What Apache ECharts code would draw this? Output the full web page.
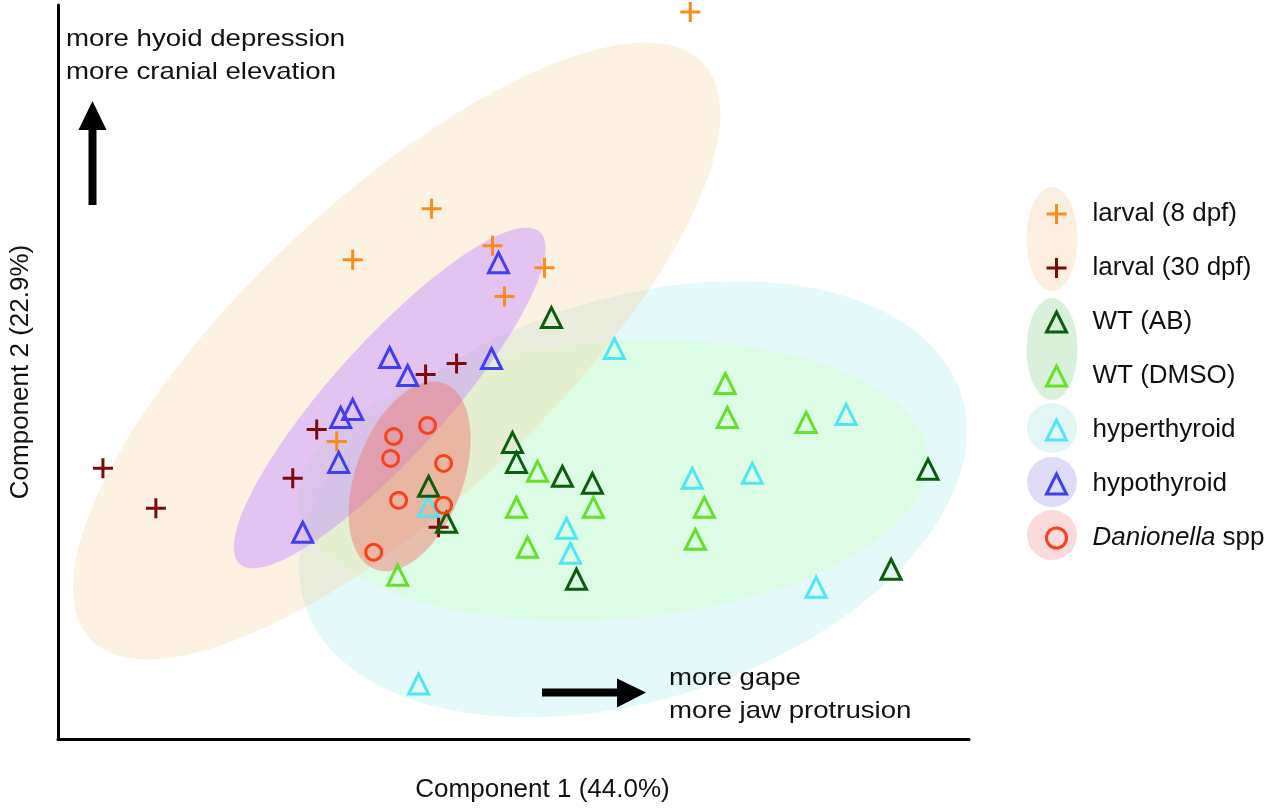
<!DOCTYPE html>
<html>
<head>
<meta charset="utf-8">
<script src="https://cdn.jsdelivr.net/npm/echarts@6/dist/echarts.min.js"></script>
<style>html,body{margin:0;padding:0;background:#fff}#c{width:1280px;height:808px}</style>
</head>
<body>
<div id="c"></div>
<script>
// ---- group names (legend order) ----
const groupNames = ['larval (8 dpf)', 'larval (30 dpf)', 'WT (AB)', 'WT (DMSO)', 'hyperthyroid', 'hypothyroid', 'Danionella spp'];

// ---- scatter values [Component 1, Component 2] (arbitrary PCA units) ----
const larval8 = [[6.33,7.28],[3.74,5.31],[2.95,4.80],[4.35,4.94],[4.87,4.72],[4.47,4.43],[2.79,2.98]];
const larval30 = [[0.45,2.71],[0.98,2.31],[2.35,2.61],[2.59,3.10],[3.68,3.65],[3.99,3.76],[3.81,2.12]];
const wtAB = [[4.94,4.22],[3.71,2.53],[3.89,2.17],[4.55,2.97],[4.59,2.77],[5.05,2.63],[5.35,2.56],[5.19,1.60],[8.71,2.70],[8.34,1.70]];
const wtDMSO = [[3.40,1.64],[4.80,2.68],[4.59,2.32],[5.36,2.32],[4.70,1.92],[6.68,3.56],[6.70,3.22],[7.49,3.17],[6.47,2.32],[6.38,2.00]];
const hyperthyroid = [[5.57,3.91],[7.89,3.25],[6.35,2.61],[6.95,2.66],[3.71,2.33],[5.09,2.11],[5.13,1.86],[7.59,1.52],[3.61,0.55]];
const hypothyroid = [[4.41,4.77],[4.34,3.81],[3.32,3.82],[3.50,3.64],[2.95,3.30],[2.83,3.22],[2.81,2.77],[2.45,2.07]];
const danionella = [[3.36,3.03],[3.70,3.14],[3.33,2.81],[3.86,2.76],[3.41,2.39],[3.86,2.34],[3.16,1.87]];

// ---- confidence ellipses [centerX, centerY, semiMajor, semiMinor, angleDeg] ----
const ellipseHyper = [5.755, 2.40, 3.45, 2.01, 17.7];
const ellipseWT = [5.555, 2.59, 3.16, 1.39, 4.25];
const ellipseLarval = [3.39, 3.885, 4.21, 1.52, 43.2];
const ellipseHypo = [3.32, 3.415, 2.24, 0.57, 47.9];
const ellipseDanio = [3.52, 2.63, 0.993, 0.537, 69.7];

// ---- axis extents / labels ----
const xRange = [0, 9.12];
const yRange = [0, 7.35];
const xName = 'Component 1 (44.0%)';
const yName = 'Component 2 (22.9%)';

const FONT = '"Liberation Sans", Arial, Helvetica, sans-serif';
const colors = ['#fa8c1e', '#7d0a0a', '#0b5e0b', '#66e02a', '#4fe6f5', '#3f3ff0', '#fa4018'];
const plusPath = 'path://M8.5,0H11.5V8.5H20V11.5H11.5V20H8.5V11.5H0V8.5H8.5Z';

function ellipseSeries(params, fill) {
  return {
    type: 'custom',
    silent: true,
    z: 1,
    encode: { x: 0, y: 1 },
    data: [params],
    renderItem: function (p, api) {
      const cx = api.value(0), cy = api.value(1), a = api.value(2), b = api.value(3);
      const ang = api.value(4) * Math.PI / 180;
      const pts = [];
      const N = 160;
      for (let i = 0; i < N; i++) {
        const t = 2 * Math.PI * i / N;
        const x = cx + a * Math.cos(t) * Math.cos(ang) - b * Math.sin(t) * Math.sin(ang);
        const y = cy + a * Math.cos(t) * Math.sin(ang) + b * Math.sin(t) * Math.cos(ang);
        pts.push(api.coord([x, y]));
      }
      return { type: 'polygon', shape: { points: pts }, style: { fill: fill } };
    }
  };
}

function plusSeries(name, data, color) {
  return { type: 'scatter', name: name, data: data, z: 3, symbol: plusPath, symbolSize: 20,
    itemStyle: { color: color, borderWidth: 0, opacity: 1 } };
}
function hollowSeries(name, data, color, symbol, size) {
  return { type: 'scatter', name: name, data: data, z: 3, symbol: symbol, symbolSize: size,
    itemStyle: { color: 'rgba(0,0,0,0)', borderColor: color, borderWidth: 3, opacity: 1 } };
}

const chart = echarts.init(document.getElementById('c'), null, { renderer: 'canvas' });
chart.setOption({
  animation: false,
  backgroundColor: '#fff',
  grid: { left: 57, right: 311, top: 5, bottom: 68, containLabel: false },
  xAxis: {
    type: 'value', min: xRange[0], max: xRange[1],
    name: xName, nameLocation: 'middle', nameGap: 38,
    nameTextStyle: { fontSize: 26, fontFamily: FONT, color: '#111', padding: [0, 0, 0, 58] },
    axisLine: { show: true, onZero: false, lineStyle: { color: '#000', width: 3 } },
    axisTick: { show: false }, axisLabel: { show: false }, splitLine: { show: false }
  },
  yAxis: {
    type: 'value', min: yRange[0], max: yRange[1],
    name: yName, nameLocation: 'middle', nameGap: 24,
    nameTextStyle: { fontSize: 26, fontFamily: FONT, color: '#111' },
    axisLine: { show: true, onZero: false, lineStyle: { color: '#000', width: 3 } },
    axisTick: { show: false }, axisLabel: { show: false }, splitLine: { show: false }
  },
  legend: {
    orient: 'vertical', left: 1040, top: 196,
    itemWidth: 20, itemHeight: 20, itemGap: 28,
    selectedMode: false,
    textStyle: { fontSize: 26, fontFamily: FONT, color: '#111', padding: [0, 0, 0, 21],
      rich: { i: { fontStyle: 'italic', fontSize: 26, fontFamily: FONT, color: '#111' } } },
    formatter: function (n) { return n === 'Danionella spp' ? '{i|Danionella} spp' : n; },
    data: [
      { name: groupNames[0], itemStyle: { borderWidth: 0 } },
      { name: groupNames[1], itemStyle: { borderWidth: 0 } },
      { name: groupNames[2], itemStyle: { borderWidth: 3 } },
      { name: groupNames[3], itemStyle: { borderWidth: 3 } },
      { name: groupNames[4], itemStyle: { borderWidth: 3 } },
      { name: groupNames[5], itemStyle: { borderWidth: 3 } },
      { name: groupNames[6], itemStyle: { borderWidth: 3 } }
    ]
  },
  graphic: [
    // legend bubbles
    { type: 'ellipse', z: 0, shape: { cx: 1052, cy: 239, rx: 25.5, ry: 52 }, style: { fill: '#fcefe0' } },
    { type: 'ellipse', z: 0, shape: { cx: 1052, cy: 349, rx: 25.5, ry: 51 }, style: { fill: '#d9f1da' } },
    { type: 'circle', z: 0, shape: { cx: 1052, cy: 428, r: 25 }, style: { fill: '#e2f6f6' } },
    { type: 'circle', z: 0, shape: { cx: 1052, cy: 482, r: 25 }, style: { fill: '#dedcf8' } },
    { type: 'circle', z: 0, shape: { cx: 1052, cy: 535, r: 25 }, style: { fill: '#fadadb' } },
    // up arrow
    { type: 'rect', z: 5, shape: { x: 88.5, y: 126, width: 8, height: 79 }, style: { fill: '#000' } },
    { type: 'polygon', z: 5, shape: { points: [[78.5, 130], [106.5, 130], [92.5, 101]] }, style: { fill: '#000' } },
    // right arrow
    { type: 'rect', z: 5, shape: { x: 542, y: 688.5, width: 78, height: 8 }, style: { fill: '#000' } },
    { type: 'polygon', z: 5, shape: { points: [[617, 678.5], [617, 707.5], [646, 692.5]] }, style: { fill: '#000' } },
    // annotations
    { type: 'text', z: 5, x: 66, y: 23, scaleX: 1.15, scaleY: 1,
      style: { text: 'more hyoid depression\nmore cranial elevation', fill: '#111',
        font: '24px ' + FONT, lineHeight: 33, x: 0, y: 0, verticalAlign: 'top', textVerticalAlign: 'top' } },
    { type: 'text', z: 5, x: 669, y: 662, scaleX: 1.15, scaleY: 1,
      style: { text: 'more gape\nmore jaw protrusion', fill: '#111',
        font: '24px ' + FONT, lineHeight: 33, x: 0, y: 0, verticalAlign: 'top', textVerticalAlign: 'top' } }
  ],
  series: [
    ellipseSeries(ellipseHyper, 'rgba(190,240,240,0.42)'),
    ellipseSeries(ellipseWT, 'rgba(215,255,215,0.55)'),
    ellipseSeries(ellipseLarval, 'rgba(247,200,140,0.25)'),
    ellipseSeries(ellipseHypo, 'rgba(200,150,255,0.5)'),
    ellipseSeries(ellipseDanio, 'rgba(240,115,105,0.45)'),
    plusSeries(groupNames[0], larval8, colors[0]),
    plusSeries(groupNames[1], larval30, colors[1]),
    hollowSeries(groupNames[4], hyperthyroid, colors[4], 'triangle', 20),
    hollowSeries(groupNames[3], wtDMSO, colors[3], 'triangle', 20),
    hollowSeries(groupNames[2], wtAB, colors[2], 'triangle', 20),
    hollowSeries(groupNames[5], hypothyroid, colors[5], 'triangle', 20),
    hollowSeries(groupNames[6], danionella, colors[6], 'circle', 16)
  ]
});
</script>
</body>
</html>
